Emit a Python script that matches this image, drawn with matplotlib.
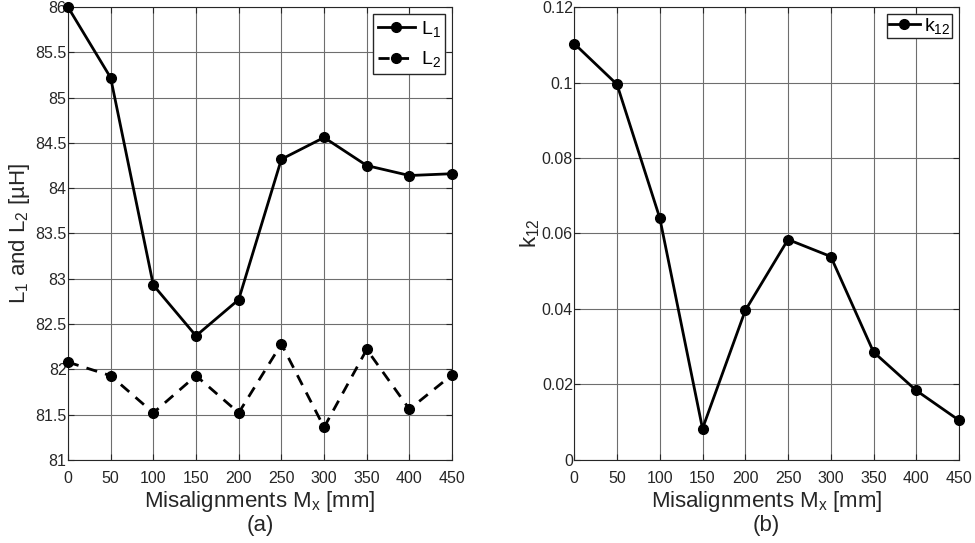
import numpy as np
import matplotlib.pyplot as plt

plt.rcParams['font.family'] = ['Liberation Sans', 'DejaVu Sans']
plt.rcParams['mathtext.fontset'] = 'custom'
plt.rcParams['mathtext.rm'] = 'Liberation Sans'
plt.rcParams['mathtext.it'] = 'Liberation Sans'

mx = [0, 50, 100, 150, 200, 250, 300, 350, 400, 450]
L1 = [86.0, 85.22, 82.93, 82.37, 82.77, 84.32, 84.56, 84.25, 84.14, 84.16]
L2 = [82.08, 81.93, 81.52, 81.93, 81.52, 82.28, 81.36, 82.22, 81.56, 81.94]
k12 = [0.1103, 0.0995, 0.0641, 0.0083, 0.0396, 0.0584, 0.0539, 0.0286, 0.0184, 0.0105]

txt = '#262626'
fig = plt.figure(figsize=(9.75, 5.43), dpi=100)
ax1 = fig.add_axes([0.0697, 0.153, 0.394, 0.834])
ax2 = fig.add_axes([0.589, 0.153, 0.3946, 0.834])

ax1.plot(mx, L1, '-o', color='black', lw=2, ms=7, label=r'L$_1$', clip_on=False, zorder=5)
ax1.plot(mx, L2, '--o', color='black', lw=2, ms=7, dashes=(4, 3), label=r'L$_2$', clip_on=False, zorder=5)
ax1.set_ylim(81, 86)
ax1.set_yticks(np.arange(81, 86.01, 0.5))
ax1.set_yticklabels(['81', '81.5', '82', '82.5', '83', '83.5', '84', '84.5', '85', '85.5', '86'])
ax1.set_ylabel(r'L$_1$ and L$_2$ [µH]', fontsize=16, color=txt, labelpad=2)
ax1.legend(loc='upper right', fontsize=14, fancybox=False, edgecolor=txt, framealpha=1,
           borderaxespad=0.35, handlelength=1.9, handletextpad=0.3, borderpad=0.25, labelspacing=0.55)

ax2.plot(mx, k12, '-o', color='black', lw=2, ms=7, label=r'k$_{12}$', clip_on=False, zorder=5)
ax2.set_ylim(0, 0.12)
ax2.set_yticks([0, 0.02, 0.04, 0.06, 0.08, 0.1, 0.12])
ax2.set_yticklabels(['0', '0.02', '0.04', '0.06', '0.08', '0.1', '0.12'])
ax2.set_ylabel(r'k$_{12}$', fontsize=16, color=txt, labelpad=0)
ax2.legend(loc='upper right', fontsize=14, fancybox=False, edgecolor=txt, framealpha=1,
           borderaxespad=0.35, handlelength=1.6, handletextpad=0.2, borderpad=0.1)

for ax, tag in [(ax1, '(a)'), (ax2, '(b)')]:
    ax.set_xlim(0, 450)
    ax.set_xticks(mx)
    ax.grid(True, color='#6e6e6e', lw=0.8)
    ax.tick_params(direction='in', labelsize=11.5, labelcolor=txt, color=txt,
                   top=True, right=True, length=4)
    ax.tick_params(axis='y', pad=1)
    ax.tick_params(axis='x', pad=8)
    for s in ax.spines.values():
        s.set_color(txt)
    ax.set_xlabel(r'Misalignments M$_\mathregular{x}$ [mm]', fontsize=16, color=txt, labelpad=2)
    ax.text(0.5, -0.145, tag, transform=ax.transAxes, ha='center', va='center', fontsize=16, color=txt)

fig.savefig('out.png', dpi=100)
